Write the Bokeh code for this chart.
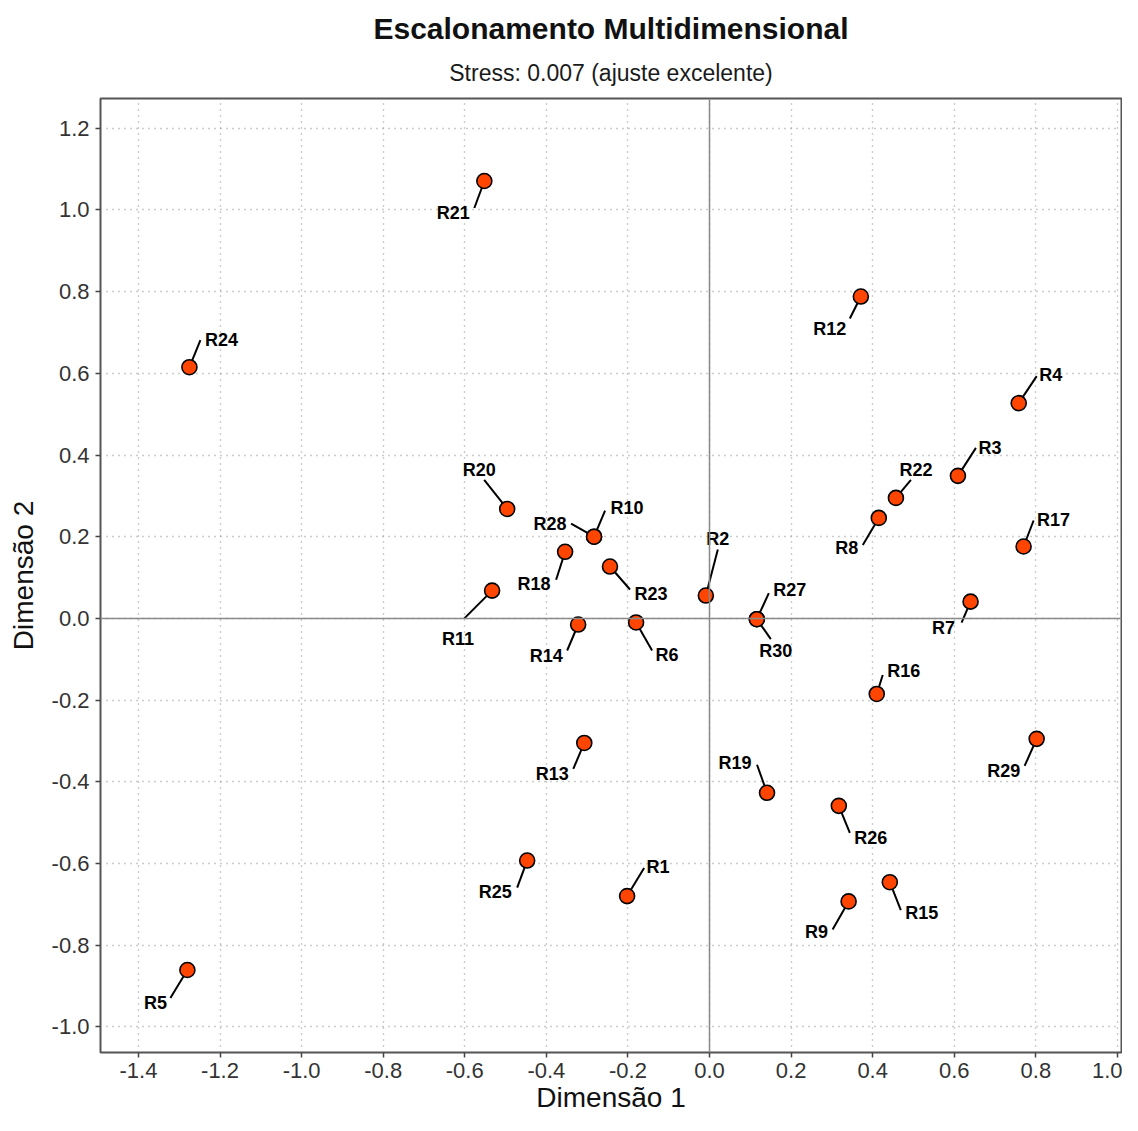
import math
from bokeh.plotting import figure
from bokeh.models import ColumnDataSource, Title, Span, FixedTicker
from bokeh.embed import file_html
from bokeh.resources import INLINE

# ---- data (MDS coordinates) ----
names = ["R1", "R2", "R3", "R4", "R5", "R6", "R7", "R8", "R9", "R10",
         "R11", "R12", "R13", "R14", "R15", "R16", "R17", "R18", "R19", "R20",
         "R21", "R22", "R23", "R24", "R25", "R26", "R27", "R28", "R29", "R30"]
dim1 = [-0.202, -0.009, 0.609, 0.758, -1.280, -0.180, 0.640, 0.415, 0.341, -0.283,
        -0.533, 0.371, -0.307, -0.322, 0.442, 0.410, 0.770, -0.354, 0.141, -0.496,
        -0.552, 0.457, -0.244, -1.275, -0.447, 0.317, 0.116, -0.283, 0.802, 0.116]
dim2 = [-0.680, 0.056, 0.349, 0.527, -0.861, -0.010, 0.041, 0.246, -0.693, 0.200,
        0.068, 0.788, -0.305, -0.015, -0.646, -0.185, 0.176, 0.163, -0.427, 0.268,
        1.071, 0.295, 0.127, 0.615, -0.593, -0.459, -0.002, 0.200, -0.295, -0.002]

x_ticks = [-1.4, -1.2, -1.0, -0.8, -0.6, -0.4, -0.2, 0.0, 0.2, 0.4, 0.6, 0.8, 1.0]
y_ticks = [-1.0, -0.8, -0.6, -0.4, -0.2, 0.0, 0.2, 0.4, 0.6, 0.8, 1.0, 1.2]

# ---- label placement (repel-style offsets, screen pixels; +dy = down) ----
lab_dx = [31, 12, 32, 32, -32, 31, -27, -32, -32, 33,
          -34, -31, -32, -32, 32, 27, 30, -31, -32, -28,
          -31, 20, 41, 32, -32, 32, 33, -44, -33, 19]
lab_dy = [-29, -57, -28, -28, 33, 33, 26, 30, 31, -29,
          48, 32, 31, 31, 31, -23, -27, 32, -30, -39,
          32, -28, 27, -27, 31, 32, -29, -13, 32, 32]
seg_dx = [17, 12, 18, 18, -17, 16, -9, -16, -16, 11,
          -28, -11, -11, -11, 11, 6, 10, -9, -10, -23,
          -10, 15, 20, 11, -10, 11, 12, -23, -12, 14]
seg_dy = [-28, -46, -28, -27, 28, 28, 21, 27, 28, -26,
          28, 22, 26, 26, 28, -19, -26, 28, -28, -29,
          27, -18, 23, -27, 27, 27, -26, -13, 27, 20]

seg_len = [math.hypot(a, b) for a, b in zip(seg_dx, seg_dy)]
seg_ang = [math.atan2(-b, a) for a, b in zip(seg_dx, seg_dy)]

src = ColumnDataSource(dict(x=dim1, y=dim2, name=names, ldx=lab_dx, ldy=lab_dy,
                            slen=seg_len, sang=seg_ang))

p = figure(width=1122, height=1115, output_backend="svg", toolbar_location=None,
           x_range=(-1.493, 1.010), y_range=(-1.063, 1.273),
           min_border_left=100, min_border_right=1, min_border_top=98, min_border_bottom=60)

p.add_layout(Title(text="Stress: 0.007 (ajuste excelente)", align="center",
                   text_font="Liberation Sans", text_font_size="23px",
                   text_font_style="normal", text_color="#1a1a1a", standoff=26), "above")
p.add_layout(Title(text="Escalonamento Multidimensional", align="center",
                   text_font="Liberation Sans", text_font_size="30px",
                   text_font_style="bold", text_color="#111111", standoff=0), "above")

p.background_fill_color = "white"
p.border_fill_color = "white"
p.outline_line_color = "#555555"
p.outline_line_width = 2

for ax in (p.xaxis[0], p.yaxis[0]):
    ax.axis_line_color = None
    ax.major_tick_line_color = "#444444"
    ax.major_tick_line_width = 1.5
    ax.major_tick_out = 5
    ax.major_tick_in = 0
    ax.minor_tick_line_color = None
    ax.major_label_text_font = "Liberation Sans"
    ax.major_label_text_font_size = "22px"
    ax.major_label_text_color = "#333333"
    ax.axis_label_text_font = "Liberation Sans"
    ax.axis_label_text_font_size = "28px"
    ax.axis_label_text_font_style = "normal"
    ax.axis_label_text_color = "#111111"

p.xaxis.ticker = FixedTicker(ticks=x_ticks)
p.yaxis.ticker = FixedTicker(ticks=y_ticks)
p.xaxis.major_label_overrides = {t: f"{t:.1f}" for t in x_ticks}
p.yaxis.major_label_overrides = {t: f"{t:.1f}" for t in y_ticks}
p.xaxis.axis_label = "Dimensão 1"
p.yaxis.axis_label = "Dimensão 2"
p.xaxis.major_label_standoff = 5
p.yaxis.major_label_standoff = 6
p.xaxis.axis_label_standoff = 1
p.yaxis.axis_label_standoff = 10

p.grid.grid_line_color = "#999999"
p.grid.grid_line_dash = "1 5"
p.grid.grid_line_width = 1.4

p.add_layout(Span(location=0, dimension="width", line_color="#8a8a8a", line_width=1.5))
p.add_layout(Span(location=0, dimension="height", line_color="#8a8a8a", line_width=1.5))

p.ray(x="x", y="y", length="slen", length_units="screen", angle="sang",
      angle_units="rad", line_color="black", line_width=2, source=src)
p.scatter(x="x", y="y", size=15, fill_color="#FF4500", line_color="black",
          line_width=1.6, source=src)
p.text(x="x", y="y", text="name", x_offset="ldx", y_offset="ldy",
       text_align="center", text_baseline="middle",
       text_font={"value": "Liberation Sans"}, text_font_size="18px",
       text_font_style="bold", text_color="black", source=src)

open("out.html", "w").write(file_html(p, INLINE))
